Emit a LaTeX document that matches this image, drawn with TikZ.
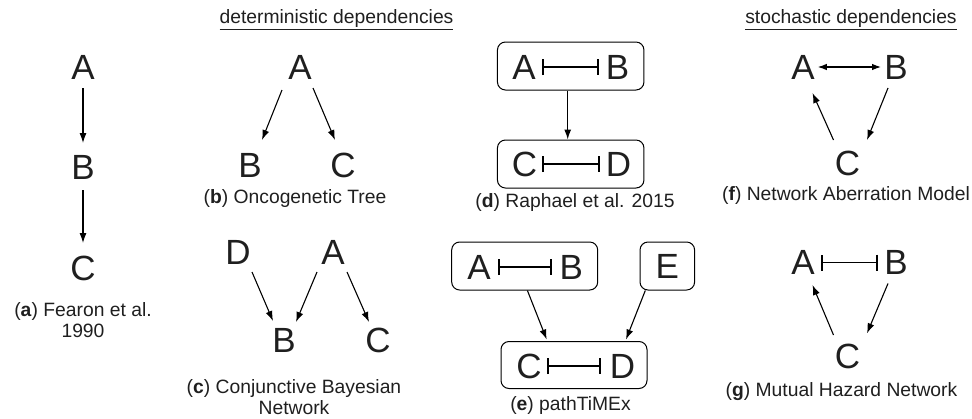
\documentclass[tikz,border=0pt]{standalone}
\usepackage{fontspec}
\setmainfont{Liberation Sans}
\usetikzlibrary{arrows.meta}
\begin{document}
\begin{tikzpicture}[x=1pt,y=-1pt,
 letter/.style={inner sep=0pt, font=\fontsize{35}{35}\selectfont, text=black!88},
 lab/.style={inner sep=0pt, font=\fontsize{19.3}{20.5}\selectfont, align=center, text=black!88},
 arr/.style={line width=1.1pt, -{Latex[length=10pt,width=7pt]}},
 inh/.style={line width=1.1pt, {Bar[width=16pt,line width=2pt]}-{Bar[width=16pt,line width=2pt]}},
 dbl/.style={line width=1.1pt, {Latex[length=9pt,width=6.5pt]}-{Latex[length=9pt,width=6.5pt]}},
 grp/.style={draw, rounded corners=8pt, line width=1pt, inner sep=0pt}]
\useasboundingbox (0,0) rectangle (972,418);
% titles
\node[lab] (t1) at (336.5,20) {\underline{deterministic dependencies}};
\node[lab] (t2) at (851,20) {\underline{stochastic dependencies}};
% (a)
\node[letter] (aA) at (83,67) {A};
\node[letter] (aB) at (83,167) {B};
\node[letter] (aC) at (83,268) {C};
\draw[arr] ([shift={(0,21)}]aA.center) -- ([shift={(0,-24)}]aB.center);
\draw[arr] ([shift={(0,23)}]aB.center) -- ([shift={(0,-25)}]aC.center);
\node[lab] (la) at (83,320) {(\textbf{a}) Fearon et al.\\1990};
% (b)
\node[letter] (bA) at (300,67) {A};
\node[letter] (bB) at (250,165) {B};
\node[letter] (bC) at (343,165) {C};
\draw[arr] ([shift={(-18,23)}]bA.center) -- ([shift={(12,-25)}]bB.center);
\draw[arr] ([shift={(13,21)}]bA.center) -- ([shift={(-8,-25)}]bC.center);
\node[lab] (lb) at (295,199) {(\textbf{b}) Oncogenetic Tree};
% (c)
\node[letter] (cD) at (238,252) {D};
\node[letter] (cA) at (333,252) {A};
\node[letter] (cB) at (284,340) {B};
\node[letter] (cC) at (378,340) {C};
\draw[arr] ([shift={(14,20)}]cD.center) -- ([shift={(-11,-19)}]cB.center);
\draw[arr] ([shift={(-16,20)}]cA.center) -- ([shift={(12,-18)}]cB.center);
\draw[arr] ([shift={(14,20)}]cA.center) -- ([shift={(-9,-18)}]cC.center);
\node[lab] (lc) at (294,397) {(\textbf{c}) Conjunctive Bayesian\\Network};
% (d)
\node[grp, minimum width=146.5pt, minimum height=48pt] (d1) at (570.7,66) {};
\node[grp, minimum width=146.5pt, minimum height=48pt] (d2) at (570.7,164) {};
\node[letter] (dA) at (524,67) {A};
\node[letter] (dB) at (617.5,67) {B};
\node[letter] (dC) at (524.5,164) {C};
\node[letter] (dD) at (618.5,164) {D};
\draw[inh] ([shift={(18,0)}]dA.center) -- ([shift={(-18.5,0)}]dB.center);
\draw[inh] ([shift={(17.5,0)}]dC.center) -- ([shift={(-19,0)}]dD.center);
\draw[arr] ([shift={(-3,0)}]d1.south) -- ([shift={(-3,0)}]d2.north);
\node[lab] (ld) at (575,203) {(\textbf{d}) Raphael et al. 2015};
% (e)
\node[grp, minimum width=146pt, minimum height=48pt] (e1) at (524.7,266) {};
\node[grp, minimum width=54.6pt, minimum height=48pt] (e2) at (667.3,266) {};
\node[grp, minimum width=146pt, minimum height=47pt] (e3) at (574,365) {};
\node[letter] (eA) at (479,267) {A};
\node[letter] (eB) at (571.4,267) {B};
\node[letter] (eE) at (667.3,266) {E};
\node[letter] (eC) at (529,366) {C};
\node[letter] (eD) at (622.4,366) {D};
\draw[inh] ([shift={(18.5,0)}]eA.center) -- ([shift={(-19.5,0)}]eB.center);
\draw[inh] ([shift={(17.7,0)}]eC.center) -- ([shift={(-21,0)}]eD.center);
\draw[arr] ([shift={(2.7,0)}]e1.south) -- ([shift={(-27.3,-1.5)}]e3.north);
\draw[arr] ([shift={(-22,0)}]e2.south) -- ([shift={(52,-1.5)}]e3.north);
\node[lab] (le) at (570.5,406) {(\textbf{e}) pathTiMEx};
% (f)
\node[letter] (fA) at (803,67) {A};
\node[letter] (fB) at (896,67) {B};
\node[letter] (fC) at (847.5,163) {C};
\draw[dbl] ([shift={(14.8,0)}]fA.center) -- ([shift={(-15,0)}]fB.center);
\draw[arr] ([shift={(-14,-23)}]fC.center) -- ([shift={(9.5,26)}]fA.center);
\draw[arr] ([shift={(-8,21)}]fB.center) -- ([shift={(19.5,-23)}]fC.center);
\node[lab] (lf) at (846,196) {(\textbf{f}) Network Aberration Model};
% (g)
\node[letter] (gA) at (803,262.5) {A};
\node[letter] (gB) at (896,262.5) {B};
\node[letter] (gC) at (847.5,356.7) {C};
\draw[inh] ([shift={(18.3,0)}]gA.center) -- ([shift={(-18.4,0)}]gB.center);
\draw[arr] ([shift={(-14,-21.7)}]gC.center) -- ([shift={(9.5,22.5)}]gA.center);
\draw[arr] ([shift={(-8,21)}]gB.center) -- ([shift={(19.5,-23.4)}]gC.center);
\node[lab] (lg) at (841.5,392) {(\textbf{g}) Mutual Hazard Network};
\end{tikzpicture}
\end{document}
